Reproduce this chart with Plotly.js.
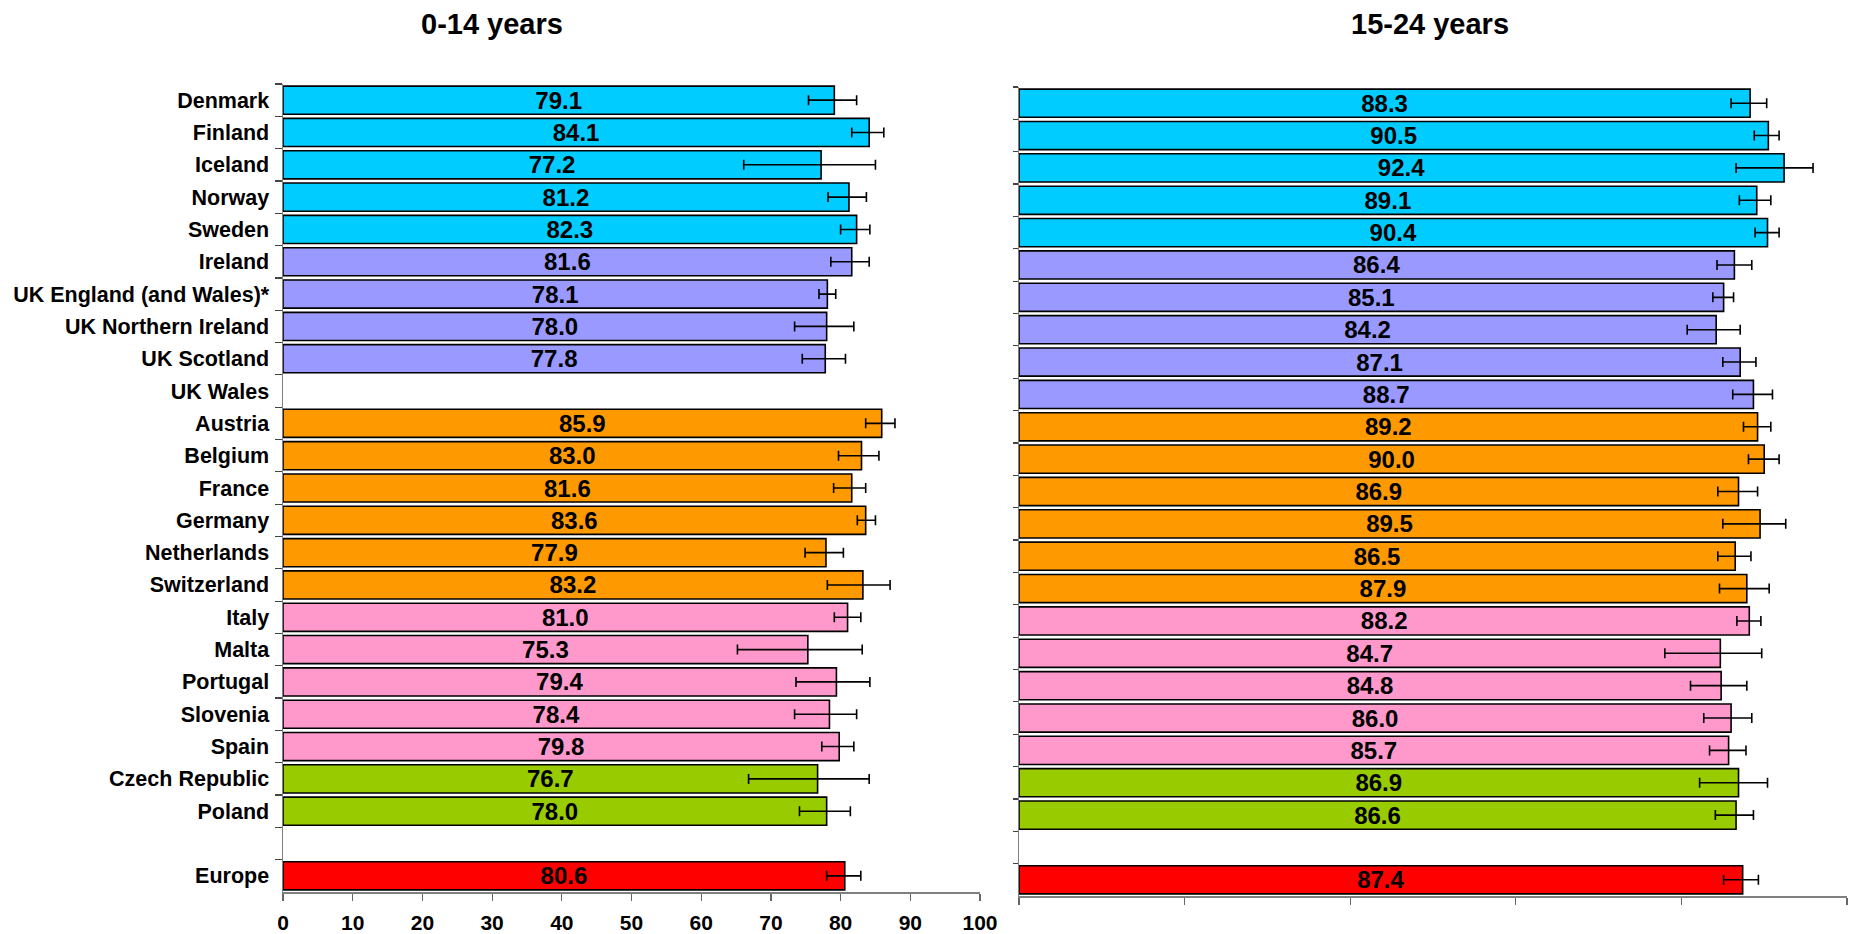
<!DOCTYPE html>
<html>
<head>
<meta charset="utf-8">
<script src="https://cdn.plot.ly/plotly-3.0.1.min.js"></script>
<style>
  html, body { margin: 0; padding: 0; background: #ffffff; }
  #chart { width: 1856px; height: 934px; }
</style>
</head>
<body>
<div id="chart"></div>
<script>
// Countries, top to bottom; ' ' is the spacer row above Europe
const categories = [
  'Denmark', 'Finland', 'Iceland', 'Norway', 'Sweden',
  'Ireland', 'UK England (and Wales)*', 'UK Northern Ireland', 'UK Scotland', 'UK Wales',
  'Austria', 'Belgium', 'France', 'Germany', 'Netherlands', 'Switzerland',
  'Italy', 'Malta', 'Portugal', 'Slovenia', 'Spain',
  'Czech Republic', 'Poland', ' ', 'Europe'
];

// Region of each row (drives bar colour)
const regions = [
  'north', 'north', 'north', 'north', 'north',
  'isles', 'isles', 'isles', 'isles', 'isles',
  'west', 'west', 'west', 'west', 'west', 'west',
  'south', 'south', 'south', 'south', 'south',
  'east', 'east', null, 'europe'
];

// 0-14 years: value and asymmetric confidence interval
const age0to14 = [79.1, 84.1, 77.2, 81.2, 82.3, 81.6, 78.1, 78.0, 77.8, null,
  85.9, 83.0, 81.6, 83.6, 77.9, 83.2, 81.0, 75.3, 79.4, 78.4, 79.8, 76.7, 78.0, null, 80.6];
const age0to14Minus = [3.7, 2.5, 11.1, 3.0, 2.3, 3.0, 1.2, 4.6, 3.3, null,
  2.3, 3.3, 2.6, 1.2, 3.0, 5.1, 1.9, 10.1, 5.8, 5.0, 2.5, 9.9, 3.9, null, 2.6];
const age0to14Plus = [3.2, 2.1, 7.8, 2.5, 1.9, 2.5, 1.2, 3.9, 2.9, null,
  1.9, 2.5, 2.0, 1.4, 2.5, 3.9, 1.9, 7.8, 4.8, 3.9, 2.1, 7.4, 3.4, null, 2.3];

// 15-24 years: value and asymmetric confidence interval
const age15to24 = [88.3, 90.5, 92.4, 89.1, 90.4, 86.4, 85.1, 84.2, 87.1, 88.7,
  89.2, 90.0, 86.9, 89.5, 86.5, 87.9, 88.2, 84.7, 84.8, 86.0, 85.7, 86.9, 86.6, null, 87.4];
const age15to24Minus = [2.3, 1.7, 5.8, 2.1, 1.5, 2.1, 1.3, 3.5, 2.1, 2.5,
  1.7, 1.9, 2.5, 4.5, 2.1, 3.3, 1.5, 6.7, 3.7, 3.3, 2.3, 4.7, 2.5, null, 2.3];
const age15to24Plus = [2.0, 1.3, 3.5, 1.7, 1.4, 2.1, 1.2, 2.9, 1.9, 2.3,
  1.6, 1.8, 2.3, 3.1, 1.9, 2.7, 1.4, 5.0, 3.1, 2.5, 2.1, 3.5, 2.1, null, 1.9];

const xTicks0to14 = [0, 10, 20, 30, 40, 50, 60, 70, 80, 90, 100];
const panelTitles = ['0-14 years', '15-24 years'];

// Styling
const palette = {
  north: '#00CCFF', isles: '#9999FF', west: '#FF9900',
  south: '#FF99CC', east: '#99CC00', europe: '#FF0000'
};
const FONT = 'Arial, "Liberation Sans", Helvetica, sans-serif';
const W = 1856, H = 934;
const barColors = regions.map(r => r ? palette[r] : '#ffffff');

function barTrace(values, minus, plus, xa, ya) {
  return {
    type: 'bar', orientation: 'h',
    x: values, y: categories,
    xaxis: xa, yaxis: ya,
    marker: { color: barColors, line: { color: '#000000', width: 1.6 } },
    texttemplate: '%{x:.1f}',
    textposition: 'inside',
    insidetextanchor: 'middle',
    textangle: 0,
    constraintext: 'none',
    insidetextfont: { family: FONT, size: 24, color: '#000000', weight: 700 },
    error_x: {
      type: 'data', symmetric: false,
      array: plus, arrayminus: minus,
      color: '#000000', thickness: 1.6, width: 5
    },
    hoverinfo: 'skip',
    showlegend: false
  };
}

const traces = [
  barTrace(age0to14, age0to14Minus, age0to14Plus, 'x', 'y'),
  barTrace(age15to24, age15to24Minus, age15to24Plus, 'x2', 'y2')
];

const yCommon = {
  type: 'category',
  categoryorder: 'array',
  categoryarray: categories,
  autorange: 'reversed',
  tickson: 'boundaries',
  ticks: 'outside', ticklen: 7, tickwidth: 1.2, tickcolor: '#444444',
  showline: true, linecolor: '#808080', linewidth: 1.5,
  showgrid: false, zeroline: false, fixedrange: true
};

const xCommon = {
  range: [0, 100],
  ticks: 'outside', ticklen: 7, tickwidth: 1.2, tickcolor: '#666666',
  showline: true, linecolor: '#808080', linewidth: 1.5,
  showgrid: false, zeroline: false, fixedrange: true
};

const layout = {
  width: W, height: H,
  margin: { l: 0, r: 0, t: 0, b: 0 },
  paper_bgcolor: '#ffffff', plot_bgcolor: '#ffffff',
  bargap: 0.13,
  font: { family: FONT, color: '#000000' },
  xaxis: Object.assign({}, xCommon, {
    domain: [283 / W, 980 / W], anchor: 'y',
    tickmode: 'array', tickvals: xTicks0to14, ticktext: xTicks0to14.map(String),
    ticklabelstandoff: 4,
    tickfont: { family: FONT, size: 21, color: '#000000', weight: 700 }
  }),
  yaxis: Object.assign({}, yCommon, {
    domain: [1 - 892 / H, 1 - 84 / H], anchor: 'x',
    ticklabelstandoff: 8,
    tickfont: { family: FONT, size: 21.5, color: '#000000', weight: 700 }
  }),
  xaxis2: Object.assign({}, xCommon, {
    domain: [1019 / W, 1847 / W], anchor: 'y2',
    dtick: 20, tick0: 0, showticklabels: false
  }),
  yaxis2: Object.assign({}, yCommon, {
    domain: [1 - 896 / H, 1 - 87 / H], anchor: 'x2',
    ticklen: 5, showticklabels: false
  }),
  annotations: [
    { text: panelTitles[0], xref: 'paper', yref: 'paper', x: 492 / W, y: 1 - 24 / H,
      xanchor: 'center', yanchor: 'middle', showarrow: false,
      font: { family: FONT, size: 29, color: '#000000', weight: 700 } },
    { text: panelTitles[1], xref: 'paper', yref: 'paper', x: 1430 / W, y: 1 - 24 / H,
      xanchor: 'center', yanchor: 'middle', showarrow: false,
      font: { family: FONT, size: 29, color: '#000000', weight: 700 } }
  ]
};

Plotly.newPlot('chart', traces, layout, { staticPlot: true, displayModeBar: false });
</script>
</body>
</html>
